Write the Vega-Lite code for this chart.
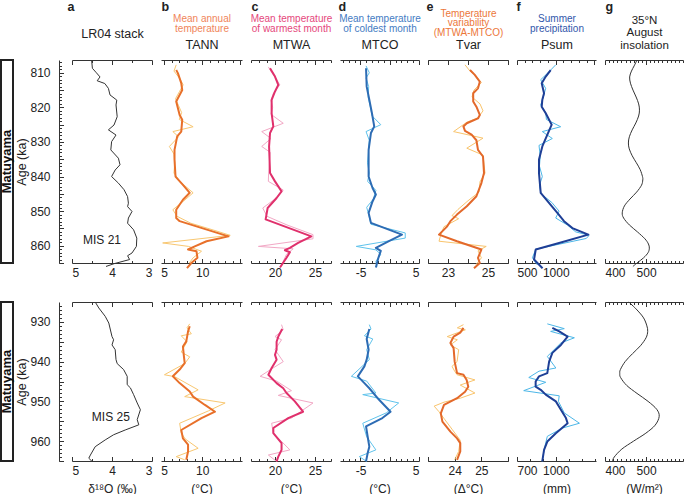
{
"$schema": "https://vega.github.io/schema/vega-lite/v6.json",
"padding": {"left": 0, "top": 0, "right": 0, "bottom": 0},
"background": "white",
"config": {
 "font": "Liberation Sans",
 "view": {"stroke": null},
 "axis": {"grid": false, "domainColor": "#333", "tickColor": "#333", "labelColor": "#222", "titleColor": "#222", "labelFontSize": 12, "titleFontSize": 12, "titleFontWeight": "normal", "labelFont": "Liberation Sans", "titleFont": "Liberation Sans", "domainWidth": 1, "tickWidth": 1, "labelOverlap": false},
 "line": {"strokeJoin": "round"}
},
"datasets": {
 "box": [{"t": "Matuyama"}],
 "blank": [{"t": ""}],
 "lr04_top": [{"age":806.3,"v":4.51},{"age":808.7,"v":4.49},{"age":810,"v":4.39},{"age":811.2,"v":4.30},{"age":812.3,"v":4.37},{"age":813.1,"v":4.18},{"age":814.5,"v":4.09},{"age":816.4,"v":4.05},{"age":817.9,"v":3.88},{"age":819.3,"v":3.90},{"age":822.7,"v":3.87},{"age":825.1,"v":3.95},{"age":826.5,"v":4.09},{"age":828,"v":3.90},{"age":829.9,"v":4.01},{"age":832.3,"v":4.03},{"age":834.7,"v":3.84},{"age":836.6,"v":3.80},{"age":838.1,"v":3.92},{"age":840,"v":4.01},{"age":841.9,"v":3.84},{"age":843.8,"v":3.70},{"age":845.8,"v":3.61},{"age":847.7,"v":3.59},{"age":848.7,"v":3.61},{"age":850.1,"v":3.50},{"age":852,"v":3.59},{"age":853.5,"v":3.61},{"age":855.4,"v":3.46},{"age":857.8,"v":3.38},{"age":860.2,"v":3.39},{"age":862.1,"v":3.50},{"age":862.9,"v":3.61},{"age":864,"v":3.56},{"age":865.2,"v":3.95},{"age":866,"v":4.15}],
 "mis_top": [{"age":858.4,"v":4.25,"t":"MIS 21"}],
 "mis_bot": [{"age":953.9,"v":4.03,"t":"MIS 25"}],
 "tann_top_dark": [{"age":809.2,"v":6.59},{"age":810.1,"v":6.81},{"age":813,"v":7.25},{"age":815,"v":7.38},{"age":818.3,"v":6.59},{"age":822.2,"v":7.04},{"age":823.6,"v":7.38},{"age":827,"v":7.25},{"age":828.4,"v":6.72},{"age":832.3,"v":6.37},{"age":835.1,"v":6.37},{"age":840,"v":6.5},{"age":842.4,"v":7.47},{"age":844.7,"v":8.36},{"age":846.7,"v":7.47},{"age":849.6,"v":6.59},{"age":852,"v":6.59},{"age":852.9,"v":7.04},{"age":857.3,"v":13.43},{"age":858.7,"v":10.56},{"age":860.2,"v":9.02},{"age":861.1,"v":8.14},{"age":861.6,"v":9.24},{"age":863.5,"v":9.37},{"age":865,"v":8.57},{"age":866.5,"v":8.0}],
 "tann_top_light": [{"age":807.7,"v":6.59},{"age":809.5,"v":6.3},{"age":811.6,"v":7.04},{"age":813.5,"v":7.5},{"age":815.5,"v":7.0},{"age":817.5,"v":6.5},{"age":819.5,"v":6.9},{"age":821.5,"v":7.3},{"age":823.5,"v":7.0},{"age":825.6,"v":8.8},{"age":827,"v":6.15},{"age":828.5,"v":6.9},{"age":831.3,"v":5.7},{"age":833.5,"v":6.3},{"age":836,"v":6.4},{"age":839,"v":6.3},{"age":841.5,"v":7.1},{"age":844.7,"v":8.8},{"age":847,"v":7.6},{"age":849.6,"v":6.15},{"age":851.5,"v":6.7},{"age":853.5,"v":8.5},{"age":855.5,"v":11.5},{"age":857,"v":13.66},{"age":859.2,"v":4.82},{"age":860.2,"v":8.2},{"age":861.6,"v":9.9},{"age":863.5,"v":8.8},{"age":865,"v":8.3}],
 "mtwa_top_dark": [{"age":808.7,"v":19.38},{"age":811.1,"v":20.0},{"age":813.5,"v":20.41},{"age":815.4,"v":20.0},{"age":817.8,"v":19.58},{"age":821.7,"v":19.58},{"age":825.5,"v":19.79},{"age":827.4,"v":19.38},{"age":831.3,"v":19.26},{"age":839,"v":19.38},{"age":841.4,"v":20.0},{"age":844.3,"v":20.82},{"age":846.2,"v":20.2},{"age":849.1,"v":19.08},{"age":852.4,"v":18.83},{"age":857.3,"v":24.54},{"age":859.2,"v":22.89},{"age":860.6,"v":21.86},{"age":861.3,"v":21.24},{"age":861.9,"v":21.86},{"age":863.5,"v":21.44},{"age":866.3,"v":20.62}],
 "mtwa_top_light": [{"age":808.3,"v":19.17},{"age":810,"v":19.6},{"age":811.5,"v":20.1},{"age":813.5,"v":20.6},{"age":816,"v":19.79},{"age":818,"v":19.5},{"age":820,"v":19.7},{"age":822,"v":19.5},{"age":824.6,"v":21.03},{"age":827,"v":18.34},{"age":829,"v":19.5},{"age":831.3,"v":18.34},{"age":833,"v":19.4},{"age":836,"v":19.3},{"age":839,"v":19.2},{"age":841.4,"v":19.17},{"age":843.9,"v":21.03},{"age":846.5,"v":20.0},{"age":849.1,"v":18.47},{"age":851.5,"v":19.0},{"age":854,"v":21.5},{"age":856.8,"v":24.75},{"age":858,"v":24.75},{"age":860.2,"v":17.93},{"age":860.9,"v":22.27},{"age":862.5,"v":21.44},{"age":864.5,"v":21.03},{"age":866,"v":20.8}],
 "mtco_top_dark": [{"age":808.7,"v":-4.05},{"age":814,"v":-3.94},{"age":817.8,"v":-3.49},{"age":821.7,"v":-3.04},{"age":825.5,"v":-2.65},{"age":827.4,"v":-3.21},{"age":832.3,"v":-3.61},{"age":840,"v":-3.61},{"age":843.3,"v":-2.94},{"age":845.2,"v":-2.37},{"age":847.2,"v":-2.94},{"age":850.5,"v":-3.61},{"age":853.4,"v":-3.21},{"age":856.8,"v":2.09},{"age":858.7,"v":-0.14},{"age":860.6,"v":-2.37},{"age":861.5,"v":-1.53},{"age":863.5,"v":-1.94},{"age":866.3,"v":-2.37}],
 "mtco_top_light": [{"age":808,"v":-4.05},{"age":810,"v":-3.49},{"age":811.5,"v":-4.05},{"age":814,"v":-3.6},{"age":817,"v":-3.7},{"age":820,"v":-3.3},{"age":822.5,"v":-3.0},{"age":825,"v":-1.53},{"age":827,"v":-4.05},{"age":829.5,"v":-3.5},{"age":832.3,"v":-3.61},{"age":836,"v":-3.8},{"age":839,"v":-3.5},{"age":841.4,"v":-3.77},{"age":844,"v":-2.37},{"age":846.5,"v":-2.8},{"age":848.9,"v":-3.94},{"age":851,"v":-3.6},{"age":853.8,"v":-3.21},{"age":856.3,"v":2.65},{"age":857.8,"v":2.65},{"age":860.2,"v":-5.72},{"age":861.2,"v":-2.37},{"age":862.5,"v":-1.53},{"age":864.5,"v":-2.37},{"age":866,"v":-2.2}],
 "tvar_top_dark": [{"age":809.2,"v":24.1},{"age":810.6,"v":24.34},{"age":812.6,"v":24.59},{"age":814.5,"v":24.5},{"age":815.9,"v":24.26},{"age":818.3,"v":24.26},{"age":819.8,"v":24.42},{"age":822.2,"v":24.59},{"age":823.2,"v":24.5},{"age":824.6,"v":23.94},{"age":825.5,"v":23.77},{"age":826.8,"v":23.85},{"age":827.9,"v":24.18},{"age":829.5,"v":24.42},{"age":832.3,"v":24.5},{"age":834.2,"v":24.75},{"age":839,"v":24.8},{"age":841.9,"v":24.67},{"age":845.7,"v":24.42},{"age":848.6,"v":23.94},{"age":851,"v":23.45},{"age":852.9,"v":23.12},{"age":854.4,"v":22.96},{"age":856.8,"v":22.55},{"age":858.7,"v":23.45},{"age":861.1,"v":24.67},{"age":863.5,"v":24.5},{"age":865,"v":24.59},{"age":866.5,"v":24.3}],
 "tvar_top_light": [{"age":807.7,"v":23.85},{"age":809.5,"v":24.1},{"age":810.6,"v":24.34},{"age":812.8,"v":24.67},{"age":815,"v":24.3},{"age":817,"v":24.2},{"age":819,"v":24.6},{"age":821,"v":24.75},{"age":823,"v":24.5},{"age":824.3,"v":23.94},{"age":827,"v":23.28},{"age":828.9,"v":24.75},{"age":831.8,"v":23.94},{"age":833.8,"v":24.75},{"age":836.5,"v":24.8},{"age":839,"v":24.85},{"age":841.5,"v":24.6},{"age":844.5,"v":24.55},{"age":847,"v":24.0},{"age":849.5,"v":23.5},{"age":851.3,"v":23.2},{"age":852.2,"v":23.53},{"age":854.5,"v":22.8},{"age":856.8,"v":22.64},{"age":858.7,"v":22.55},{"age":860.2,"v":24.91},{"age":861.5,"v":24.5},{"age":863.5,"v":24.67},{"age":865.5,"v":24.4}],
 "psum_top_dark": [{"age":809.2,"v":935},{"age":811.1,"v":871},{"age":813,"v":819},{"age":815.9,"v":849},{"age":817.8,"v":827},{"age":819.8,"v":819},{"age":821.7,"v":871},{"age":825,"v":948},{"age":827.9,"v":892},{"age":831.3,"v":827},{"age":835.1,"v":784},{"age":839,"v":784},{"age":844.7,"v":806},{"age":847.6,"v":913},{"age":850.5,"v":1021},{"age":852.9,"v":1107},{"age":854.9,"v":1215},{"age":856.8,"v":1421},{"age":859.2,"v":1043},{"age":861.1,"v":742},{"age":864,"v":720},{"age":866.5,"v":830}],
 "psum_top_light": [{"age":807.7,"v":1000},{"age":810,"v":900},{"age":812,"v":806},{"age":814.5,"v":870},{"age":817,"v":840},{"age":819.3,"v":806},{"age":821.5,"v":870},{"age":823.5,"v":880},{"age":825.6,"v":1064},{"age":827,"v":827},{"age":829,"v":956},{"age":831,"v":784},{"age":834,"v":800},{"age":837,"v":790},{"age":840,"v":827},{"age":842.5,"v":790},{"age":845,"v":810},{"age":847.5,"v":950},{"age":850,"v":1043},{"age":852,"v":1000},{"age":854,"v":1150},{"age":856,"v":1258},{"age":857,"v":1431},{"age":857.9,"v":1395},{"age":861,"v":742},{"age":863.5,"v":699},{"age":865.5,"v":760}],
 "ins_top": [{"age":806.3,"v":478},{"age":808,"v":471},{"age":809.5,"v":464.5},{"age":811.2,"v":460},{"age":813,"v":462},{"age":815,"v":468.2},{"age":817,"v":475.8},{"age":819,"v":482},{"age":820.8,"v":484},{"age":822.5,"v":481.9},{"age":824.5,"v":475.1},{"age":826.5,"v":466.3},{"age":828.5,"v":459.3},{"age":830.3,"v":457},{"age":832,"v":459.1},{"age":834,"v":466.3},{"age":836,"v":476.3},{"age":838,"v":485.7},{"age":840,"v":491.3},{"age":841,"v":492},{"age":842.5,"v":489},{"age":844.5,"v":477},{"age":846.5,"v":460.9},{"age":848.5,"v":447.3},{"age":850.5,"v":442},{"age":852,"v":445.4},{"age":854,"v":459.4},{"age":856,"v":479},{"age":858,"v":497.2},{"age":859.5,"v":505.8},{"age":860.7,"v":508},{"age":862,"v":505},{"age":863.5,"v":494},{"age":865,"v":478},{"age":866,"v":468}],
 "lr04_bot": [{"age":925,"v":4.42},{"age":926.5,"v":4.33},{"age":928.6,"v":4.17},{"age":930.3,"v":4.08},{"age":933.7,"v":4.0},{"age":934.5,"v":3.96},{"age":935.8,"v":4.0},{"age":937,"v":3.92},{"age":939.5,"v":3.9},{"age":940.5,"v":3.87},{"age":942,"v":3.71},{"age":943.7,"v":3.62},{"age":945.8,"v":3.62},{"age":946.6,"v":3.54},{"age":948.3,"v":3.46},{"age":950.4,"v":3.37},{"age":952.1,"v":3.29},{"age":954.6,"v":3.37},{"age":955.9,"v":3.33},{"age":957.2,"v":3.67},{"age":958.4,"v":3.96},{"age":959.7,"v":4.17},{"age":961.4,"v":4.42},{"age":963.5,"v":4.54},{"age":964.3,"v":4.58},{"age":965.1,"v":4.5}],
 "tann_bot_dark": [{"age":931.1,"v":8.36},{"age":932.4,"v":8.14},{"age":934.9,"v":7.91},{"age":936.2,"v":7.47},{"age":938.7,"v":7.6},{"age":940.4,"v":7.7},{"age":942,"v":7.04},{"age":943.7,"v":6.15},{"age":945.4,"v":7.04},{"age":947.5,"v":8.36},{"age":948.8,"v":8.8},{"age":950.9,"v":10.35},{"age":952.6,"v":11.67},{"age":954.2,"v":9.9},{"age":957.2,"v":7.25},{"age":959.3,"v":7.47},{"age":960.9,"v":8.14},{"age":962.6,"v":8.14},{"age":964.7,"v":7.91}],
 "tann_bot_light": [{"age":930.5,"v":8.36},{"age":931.5,"v":8.0},{"age":933,"v":8.57},{"age":933.5,"v":7.25},{"age":935,"v":8.0},{"age":937.6,"v":7.25},{"age":938.8,"v":8.36},{"age":940.5,"v":7.7},{"age":943.3,"v":5.05},{"age":943.8,"v":6.4},{"age":947.1,"v":9.46},{"age":948.8,"v":7.7},{"age":950.4,"v":12.99},{"age":952.4,"v":10.8},{"age":955.5,"v":7.04},{"age":958,"v":7.25},{"age":959.5,"v":7.8},{"age":961.8,"v":9.46},{"age":963.9,"v":6.59},{"age":964.7,"v":7.7}],
 "mtwa_bot_dark": [{"age":931.8,"v":20.9},{"age":933.7,"v":20.41},{"age":935,"v":20.2},{"age":937,"v":20.2},{"age":938.3,"v":20.0},{"age":939.5,"v":20.2},{"age":941.6,"v":19.58},{"age":943.3,"v":19.17},{"age":945.4,"v":20.2},{"age":946.7,"v":21.03},{"age":947.9,"v":21.44},{"age":950,"v":22.48},{"age":952.6,"v":23.51},{"age":954.2,"v":21.65},{"age":956.7,"v":19.79},{"age":958,"v":19.79},{"age":960.5,"v":20.82},{"age":962.2,"v":20.82},{"age":963.9,"v":20.41},{"age":965.1,"v":20.2}],
 "mtwa_bot_light": [{"age":930.7,"v":20.82},{"age":932,"v":21.03},{"age":933.7,"v":20.0},{"age":934.5,"v":20.82},{"age":937,"v":20.0},{"age":940,"v":21.03},{"age":941.8,"v":19.6},{"age":943.7,"v":18.14},{"age":944.9,"v":20.2},{"age":947.3,"v":22.06},{"age":948.5,"v":20.41},{"age":950.4,"v":24.75},{"age":954.2,"v":22.06},{"age":955.5,"v":19.58},{"age":958,"v":19.79},{"age":962.2,"v":21.86},{"age":963.5,"v":19.17},{"age":965.1,"v":20.2}],
 "mtco_bot_dark": [{"age":931.8,"v":-3.49},{"age":934.3,"v":-3.94},{"age":937,"v":-3.61},{"age":939.5,"v":-3.94},{"age":941.2,"v":-4.33},{"age":943.7,"v":-5.45},{"age":945.4,"v":-4.33},{"age":946.7,"v":-3.49},{"age":949.6,"v":-1.82},{"age":952.6,"v":0.14},{"age":954.2,"v":-1.26},{"age":956.3,"v":-4.05},{"age":958.9,"v":-3.77},{"age":961.4,"v":-3.49},{"age":963,"v":-3.77},{"age":965.1,"v":-4.05}],
 "mtco_bot_light": [{"age":930.7,"v":-3.49},{"age":931.8,"v":-3.2},{"age":933.5,"v":-4.33},{"age":934.3,"v":-2.9},{"age":937,"v":-3.94},{"age":939.5,"v":-3.49},{"age":943.7,"v":-6.56},{"age":944.9,"v":-3.94},{"age":947.9,"v":-2.37},{"age":948.3,"v":-4.61},{"age":950.4,"v":1.53},{"age":952.9,"v":-0.6},{"age":955.5,"v":-4.61},{"age":958.9,"v":-3.94},{"age":962.2,"v":-2.37},{"age":963.9,"v":-5.2},{"age":965.1,"v":-3.94}],
 "tvar_bot_dark": [{"age":931.5,"v":24.33},{"age":932.7,"v":24.21},{"age":933.7,"v":23.96},{"age":935.3,"v":23.84},{"age":936.6,"v":23.96},{"age":940,"v":24.0},{"age":942.9,"v":24.09},{"age":943.3,"v":24.33},{"age":944.6,"v":24.45},{"age":946.3,"v":24.51},{"age":947.6,"v":24.39},{"age":949.2,"v":24.09},{"age":950.9,"v":23.6},{"age":953,"v":23.48},{"age":955.1,"v":23.54},{"age":957.6,"v":23.84},{"age":959.3,"v":24.09},{"age":960.5,"v":24.21},{"age":962.6,"v":24.21},{"age":964.7,"v":24.09}],
 "tvar_bot_light": [{"age":930.7,"v":24.33},{"age":931.5,"v":24.1},{"age":932,"v":24.4},{"age":933.7,"v":23.72},{"age":934.5,"v":24.1},{"age":935.8,"v":23.84},{"age":937,"v":24.15},{"age":940,"v":24.09},{"age":941.2,"v":23.9},{"age":942.4,"v":24.0},{"age":943.3,"v":24.09},{"age":944.6,"v":24.76},{"age":945.9,"v":24.21},{"age":947.9,"v":24.76},{"age":949.2,"v":24.21},{"age":950.2,"v":23.6},{"age":951.2,"v":23.23},{"age":952.5,"v":23.4},{"age":957,"v":23.9},{"age":959.8,"v":24.21},{"age":962.6,"v":24.15},{"age":964.7,"v":24.0}],
 "psum_bot_dark": [{"age":931.5,"v":973},{"age":932.4,"v":1026},{"age":933.7,"v":1091},{"age":935.8,"v":1039},{"age":937.8,"v":973},{"age":940,"v":948},{"age":942.9,"v":934},{"age":943.7,"v":870},{"age":945,"v":844},{"age":946.3,"v":844},{"age":947.1,"v":883},{"age":948.3,"v":922},{"age":950,"v":1000},{"age":952.1,"v":1039},{"age":954.2,"v":1078},{"age":955.5,"v":1091},{"age":958,"v":1000},{"age":960.1,"v":934},{"age":962.2,"v":909},{"age":965.1,"v":895}],
 "psum_bot_light": [{"age":930.5,"v":934},{"age":931.7,"v":1065},{"age":932.4,"v":960},{"age":934,"v":1143},{"age":935.3,"v":1039},{"age":938.7,"v":934},{"age":941.6,"v":1000},{"age":942.4,"v":870},{"age":944,"v":791},{"age":945.2,"v":922},{"age":947.3,"v":752},{"age":948.6,"v":1026},{"age":950,"v":1020},{"age":952.9,"v":1065},{"age":955.5,"v":1182},{"age":956.7,"v":1052},{"age":958.8,"v":934},{"age":962.2,"v":909},{"age":965.1,"v":895}],
 "ins_bot": [{"age":925,"v":458},{"age":927,"v":478},{"age":929,"v":494},{"age":931,"v":502},{"age":932.4,"v":504},{"age":934,"v":500},{"age":936,"v":486.4},{"age":938,"v":467},{"age":940,"v":449},{"age":942,"v":437.5},{"age":943,"v":436},{"age":944,"v":438},{"age":946,"v":453},{"age":948,"v":478},{"age":950,"v":505},{"age":952,"v":526},{"age":953.8,"v":532},{"age":956,"v":522},{"age":958,"v":499.5},{"age":960,"v":469.6},{"age":962,"v":441},{"age":964,"v":422.5},{"age":965,"v":418.5}]
},
"concat": [
 {"width": 12, "height": 203, "view": {"stroke": "#222", "strokeWidth": 2}, "data": {"name": "box"}, "mark": {"type": "text", "angle": 270, "fontWeight": "bold", "fontSize": 13, "color": "#111"}, "encoding": {"text": {"field": "t"}}},
 {"width": 41, "height": 203, "data": {"name": "blank"}, "mark": "text", "encoding": {"text": {"field": "t"}}},
 {"width": 80, "height": 203,
  "layer": [
   {"data": {"name": "lr04_top"}, "mark": {"type": "line", "color": "#333", "strokeWidth": 1},
    "encoding": {
     "x": {"field": "v", "type": "quantitative", "scale": {"domain": [3, 5], "reverse": true, "nice": false, "zero": false}, "axis": {"orient": "bottom", "values": [3, 4, 5], "labelExpr": "datum.value + ''", "tickSize": -4.5, "labelPadding": 9, "title": null}},
     "y": {"field": "age", "type": "quantitative", "scale": {"domain": [806.3, 865], "reverse": true, "nice": false, "zero": false}, "axis": {"orient": "left", "offset": 13, "values": [810,815,820,825,830,835,840,845,850,855,860,865], "labelExpr": "datum.value % 10 == 0 ? datum.label : ''", "tickSize": -4.5, "labelPadding": 13.5, "title": "Age (ka)", "titleX": -38, "titleY": 101.5, "titleAngle": 270, "titleAlign": "center", "titleBaseline": "middle", "titleFontSize": 12.5}},
     "order": {"field": "age", "type": "quantitative"}}},
   {"data": {"name": "lr04_top"}, "mark": {"type": "line", "opacity": 0},
    "encoding": {
     "x": {"field": "v", "type": "quantitative", "axis": {"orient": "top", "values": [3, 4, 5], "labels": false, "tickSize": -4.5, "title": "LR04 stack", "titleX": 40, "titleY": -27, "titleAlign": "center", "titleBaseline": "middle", "titleFontSize": 12.5}},
     "y": {"field": "age", "type": "quantitative", "axis": {"orient": "left", "offset": 13, "values": [807,808,809,810,811,812,813,814,815,816,817,818,819,820,821,822,823,824,825,826,827,828,829,830,831,832,833,834,835,836,837,838,839,840,841,842,843,844,845,846,847,848,849,850,851,852,853,854,855,856,857,858,859,860,861,862,863,864,865], "labels": false, "tickSize": -2.5, "domain": false, "title": null}},
     "order": {"field": "age", "type": "quantitative"}}},
   {"data": {"name": "lr04_top"}, "mark": {"type": "line", "opacity": 0},
    "encoding": {
     "x": {"field": "v", "type": "quantitative", "axis": {"orient": "bottom", "values": [3.5, 4.5], "labels": false, "tickSize": -2.5, "domain": false, "title": "a", "titleX": -5, "titleY": -257, "titleAlign": "left", "titleBaseline": "middle", "titleFontWeight": "bold", "titleFontSize": 12.5}},
     "y": {"field": "age", "type": "quantitative", "axis": null},
     "order": {"field": "age", "type": "quantitative"}}},
   {"data": {"name": "lr04_top"}, "mark": {"type": "line", "opacity": 0},
    "encoding": {
     "x": {"field": "v", "type": "quantitative", "axis": {"orient": "top", "values": [3.5, 4.5], "labels": false, "tickSize": -2.5, "domain": false, "title": null}},
     "y": {"field": "age", "type": "quantitative", "axis": null},
     "order": {"field": "age", "type": "quantitative"}}},
   {"data": {"name": "mis_top"}, "mark": {"type": "text", "fontSize": 12, "color": "#222"},
    "encoding": {"x": {"field": "v", "type": "quantitative", "axis": null}, "y": {"field": "age", "type": "quantitative", "axis": null}, "text": {"field": "t"}}}
  ],
  "resolve": {"axis": {"x": "independent", "y": "independent"}}},
 {"width": 81, "height": 203,
  "layer": [
   {"data": {"name": "tann_top_light"}, "mark": {"type": "line", "color": "#F8C771", "strokeWidth": 1},
    "encoding": {
     "x": {"field": "v", "type": "quantitative", "scale": {"domain": [4.6, 15.2], "nice": false, "zero": false}, "axis": {"orient": "bottom", "values": [5, 10, 15], "labelExpr": "datum.value == 15 ? '' : datum.label", "tickSize": -4.5, "labelPadding": 9, "title": null}},
     "y": {"field": "age", "type": "quantitative", "scale": {"domain": [806.3, 865], "reverse": true, "nice": false, "zero": false}, "axis": null},
     "order": {"field": "age", "type": "quantitative"}}},
   {"data": {"name": "tann_top_dark"}, "mark": {"type": "line", "color": "#E8702A", "strokeWidth": 2},
    "encoding": {
     "x": {"field": "v", "type": "quantitative", "axis": {"orient": "top", "values": [5, 10, 15], "labels": false, "tickSize": -4.5, "title": "TANN", "titleX": 40.5, "titleY": -16, "titleAlign": "center", "titleBaseline": "middle", "titleFontSize": 12.5}},
     "y": {"field": "age", "type": "quantitative", "axis": null},
     "order": {"field": "age", "type": "quantitative"}}},
   {"data": {"name": "tann_top_dark"}, "mark": {"type": "line", "opacity": 0},
    "encoding": {
     "x": {"field": "v", "type": "quantitative", "axis": {"orient": "bottom", "values": [6,7,8,9,11,12,13,14], "labels": false, "tickSize": -2.5, "domain": false, "title": "b", "titleX": 0, "titleY": -257, "titleAlign": "left", "titleBaseline": "middle", "titleFontWeight": "bold", "titleFontSize": 12.5}},
     "y": {"field": "age", "type": "quantitative", "axis": null},
     "order": {"field": "age", "type": "quantitative"}}},
   {"data": {"name": "tann_top_dark"}, "mark": {"type": "line", "opacity": 0},
    "encoding": {
     "x": {"field": "v", "type": "quantitative", "axis": {"orient": "top", "values": [6,7,8,9,11,12,13,14], "labels": false, "tickSize": -2.5, "domain": false, "title": ["Mean annual", "temperature"], "titleX": 40.5, "titleY": -42, "titleAlign": "center", "titleBaseline": "middle", "titleFontSize": 10, "titleLineHeight": 10, "titleColor": "#F0855A"}},
     "y": {"field": "age", "type": "quantitative", "axis": null},
     "order": {"field": "age", "type": "quantitative"}}}
  ],
  "resolve": {"axis": {"x": "independent", "y": "independent"}}},
 {"width": 80, "height": 203,
  "layer": [
   {"data": {"name": "mtwa_top_light"}, "mark": {"type": "line", "color": "#F2A8C5", "strokeWidth": 1},
    "encoding": {
     "x": {"field": "v", "type": "quantitative", "scale": {"domain": [17, 27], "nice": false, "zero": false}, "axis": {"orient": "bottom", "values": [20, 25], "tickSize": -4.5, "labelPadding": 9, "title": null}},
     "y": {"field": "age", "type": "quantitative", "scale": {"domain": [806.3, 865], "reverse": true, "nice": false, "zero": false}, "axis": null},
     "order": {"field": "age", "type": "quantitative"}}},
   {"data": {"name": "mtwa_top_dark"}, "mark": {"type": "line", "color": "#E0306C", "strokeWidth": 2},
    "encoding": {
     "x": {"field": "v", "type": "quantitative", "axis": {"orient": "top", "values": [20, 25], "labels": false, "tickSize": -4.5, "title": "MTWA", "titleX": 40, "titleY": -16, "titleAlign": "center", "titleBaseline": "middle", "titleFontSize": 12.5}},
     "y": {"field": "age", "type": "quantitative", "axis": null},
     "order": {"field": "age", "type": "quantitative"}}},
   {"data": {"name": "mtwa_top_dark"}, "mark": {"type": "line", "opacity": 0},
    "encoding": {
     "x": {"field": "v", "type": "quantitative", "axis": {"orient": "bottom", "values": [17,18,19,21,22,23,24,26,27], "labels": false, "tickSize": -2.5, "domain": false, "title": "c", "titleX": 0, "titleY": -257, "titleAlign": "left", "titleBaseline": "middle", "titleFontWeight": "bold", "titleFontSize": 12.5}},
     "y": {"field": "age", "type": "quantitative", "axis": null},
     "order": {"field": "age", "type": "quantitative"}}},
   {"data": {"name": "mtwa_top_dark"}, "mark": {"type": "line", "opacity": 0},
    "encoding": {
     "x": {"field": "v", "type": "quantitative", "axis": {"orient": "top", "values": [17,18,19,21,22,23,24,26,27], "labels": false, "tickSize": -2.5, "domain": false, "title": ["Mean temperature", "of warmest month"], "titleX": 40, "titleY": -42, "titleAlign": "center", "titleBaseline": "middle", "titleFontSize": 10, "titleLineHeight": 10, "titleColor": "#E5487C"}},
     "y": {"field": "age", "type": "quantitative", "axis": null},
     "order": {"field": "age", "type": "quantitative"}}}
  ],
  "resolve": {"axis": {"x": "independent", "y": "independent"}}},
 {"width": 79, "height": 203,
  "layer": [
   {"data": {"name": "mtco_top_light"}, "mark": {"type": "line", "color": "#5FC3EC", "strokeWidth": 1},
    "encoding": {
     "x": {"field": "v", "type": "quantitative", "scale": {"domain": [-8.5, 5], "nice": false, "zero": false}, "axis": {"orient": "bottom", "values": [-5, 0, 5], "labelExpr": "datum.value == 0 ? '' : datum.value == -5 ? '-5' : datum.label", "tickSize": -4.5, "labelPadding": 9, "title": null}},
     "y": {"field": "age", "type": "quantitative", "scale": {"domain": [806.3, 865], "reverse": true, "nice": false, "zero": false}, "axis": null},
     "order": {"field": "age", "type": "quantitative"}}},
   {"data": {"name": "mtco_top_dark"}, "mark": {"type": "line", "color": "#2D6CB4", "strokeWidth": 2},
    "encoding": {
     "x": {"field": "v", "type": "quantitative", "axis": {"orient": "top", "values": [-5, 0, 5], "labels": false, "tickSize": -4.5, "title": "MTCO", "titleX": 39.5, "titleY": -16, "titleAlign": "center", "titleBaseline": "middle", "titleFontSize": 12.5}},
     "y": {"field": "age", "type": "quantitative", "axis": null},
     "order": {"field": "age", "type": "quantitative"}}},
   {"data": {"name": "mtco_top_dark"}, "mark": {"type": "line", "opacity": 0},
    "encoding": {
     "x": {"field": "v", "type": "quantitative", "axis": {"orient": "bottom", "values": [-8,-7,-6,-4,-3,-2,-1,1,2,3,4], "labels": false, "tickSize": -2.5, "domain": false, "title": "d", "titleX": -2, "titleY": -257, "titleAlign": "left", "titleBaseline": "middle", "titleFontWeight": "bold", "titleFontSize": 12.5}},
     "y": {"field": "age", "type": "quantitative", "axis": null},
     "order": {"field": "age", "type": "quantitative"}}},
   {"data": {"name": "mtco_top_dark"}, "mark": {"type": "line", "opacity": 0},
    "encoding": {
     "x": {"field": "v", "type": "quantitative", "axis": {"orient": "top", "values": [-8,-7,-6,-4,-3,-2,-1,1,2,3,4], "labels": false, "tickSize": -2.5, "domain": false, "title": ["Mean temperature", "of coldest month"], "titleX": 39.5, "titleY": -42, "titleAlign": "center", "titleBaseline": "middle", "titleFontSize": 10, "titleLineHeight": 10, "titleColor": "#457CC3"}},
     "y": {"field": "age", "type": "quantitative", "axis": null},
     "order": {"field": "age", "type": "quantitative"}}}
  ],
  "resolve": {"axis": {"x": "independent", "y": "independent"}}},
 {"width": 80, "height": 203,
  "layer": [
   {"data": {"name": "tvar_top_light"}, "mark": {"type": "line", "color": "#F9C46C", "strokeWidth": 1},
    "encoding": {
     "x": {"field": "v", "type": "quantitative", "scale": {"domain": [22, 26], "nice": false, "zero": false}, "axis": {"orient": "bottom", "values": [22, 23, 24, 25, 26], "labelExpr": "datum.value == 23 || datum.value == 25 ? datum.label : ''", "tickSize": -4.5, "labelPadding": 9, "title": null}},
     "y": {"field": "age", "type": "quantitative", "scale": {"domain": [806.3, 865], "reverse": true, "nice": false, "zero": false}, "axis": null},
     "order": {"field": "age", "type": "quantitative"}}},
   {"data": {"name": "tvar_top_dark"}, "mark": {"type": "line", "color": "#E3692B", "strokeWidth": 2},
    "encoding": {
     "x": {"field": "v", "type": "quantitative", "axis": {"orient": "top", "values": [22, 23, 24, 25, 26], "labels": false, "tickSize": -4.5, "title": "Tvar", "titleX": 40, "titleY": -16, "titleAlign": "center", "titleBaseline": "middle", "titleFontSize": 12.5}},
     "y": {"field": "age", "type": "quantitative", "axis": null},
     "order": {"field": "age", "type": "quantitative"}}},
   {"data": {"name": "tvar_top_dark"}, "mark": {"type": "line", "opacity": 0},
    "encoding": {
     "x": {"field": "v", "type": "quantitative", "axis": {"orient": "bottom", "values": [22, 23, 24, 25, 26], "labels": false, "tickSize": -2.5, "domain": false, "title": "e", "titleX": -2, "titleY": -257, "titleAlign": "left", "titleBaseline": "middle", "titleFontWeight": "bold", "titleFontSize": 12.5}},
     "y": {"field": "age", "type": "quantitative", "axis": null},
     "order": {"field": "age", "type": "quantitative"}}},
   {"data": {"name": "tvar_top_dark"}, "mark": {"type": "line", "opacity": 0},
    "encoding": {
     "x": {"field": "v", "type": "quantitative", "axis": {"orient": "top", "values": [22, 23, 24, 25, 26], "labels": false, "tickSize": -2.5, "domain": false, "title": ["Temperature", "variability", "(MTWA-MTCO)"], "titleX": 40, "titleY": -47, "titleAlign": "center", "titleBaseline": "middle", "titleFontSize": 10, "titleLineHeight": 9.5, "titleColor": "#EC773A"}},
     "y": {"field": "age", "type": "quantitative", "axis": null},
     "order": {"field": "age", "type": "quantitative"}}}
  ],
  "resolve": {"axis": {"x": "independent", "y": "independent"}}},
 {"width": 79, "height": 203,
  "layer": [
   {"data": {"name": "psum_top_light"}, "mark": {"type": "line", "color": "#4DB7E8", "strokeWidth": 1},
    "encoding": {
     "x": {"field": "v", "type": "quantitative", "scale": {"domain": [500, 1520], "nice": false, "zero": false}, "axis": {"orient": "bottom", "values": [500, 1000, 1500], "labelExpr": "datum.value == 1500 ? '' : datum.value + ''", "tickSize": -4.5, "labelPadding": 9, "title": null}},
     "y": {"field": "age", "type": "quantitative", "scale": {"domain": [806.3, 865], "reverse": true, "nice": false, "zero": false}, "axis": null},
     "order": {"field": "age", "type": "quantitative"}}},
   {"data": {"name": "psum_top_dark"}, "mark": {"type": "line", "color": "#1E3F96", "strokeWidth": 2},
    "encoding": {
     "x": {"field": "v", "type": "quantitative", "axis": {"orient": "top", "values": [500, 1000, 1500], "labels": false, "tickSize": -4.5, "title": "Psum", "titleX": 39.5, "titleY": -16, "titleAlign": "center", "titleBaseline": "middle", "titleFontSize": 12.5}},
     "y": {"field": "age", "type": "quantitative", "axis": null},
     "order": {"field": "age", "type": "quantitative"}}},
   {"data": {"name": "psum_top_dark"}, "mark": {"type": "line", "opacity": 0},
    "encoding": {
     "x": {"field": "v", "type": "quantitative", "axis": {"orient": "bottom", "values": [600,700,800,900,1100,1200,1300,1400], "labels": false, "tickSize": -2.5, "domain": false, "title": "f", "titleX": -1, "titleY": -257, "titleAlign": "left", "titleBaseline": "middle", "titleFontWeight": "bold", "titleFontSize": 12.5}},
     "y": {"field": "age", "type": "quantitative", "axis": null},
     "order": {"field": "age", "type": "quantitative"}}},
   {"data": {"name": "psum_top_dark"}, "mark": {"type": "line", "opacity": 0},
    "encoding": {
     "x": {"field": "v", "type": "quantitative", "axis": {"orient": "top", "values": [600,700,800,900,1100,1200,1300,1400], "labels": false, "tickSize": -2.5, "domain": false, "title": ["Summer", "precipitation"], "titleX": 39.5, "titleY": -42, "titleAlign": "center", "titleBaseline": "middle", "titleFontSize": 10, "titleLineHeight": 10, "titleColor": "#3157AB"}},
     "y": {"field": "age", "type": "quantitative", "axis": null},
     "order": {"field": "age", "type": "quantitative"}}}
  ],
  "resolve": {"axis": {"x": "independent", "y": "independent"}}},
 {"width": 78, "height": 203,
  "layer": [
   {"data": {"name": "ins_top"}, "mark": {"type": "line", "color": "#333", "strokeWidth": 1, "interpolate": "cardinal"},
    "encoding": {
     "x": {"field": "v", "type": "quantitative", "scale": {"domain": [400, 590], "nice": false, "zero": false}, "axis": {"orient": "bottom", "values": [400, 500], "tickSize": -4.5, "labelPadding": 9, "title": null}},
     "y": {"field": "age", "type": "quantitative", "scale": {"domain": [806.3, 865], "reverse": true, "nice": false, "zero": false}, "axis": null},
     "order": {"field": "age", "type": "quantitative"}}},
   {"data": {"name": "ins_top"}, "mark": {"type": "line", "opacity": 0},
    "encoding": {
     "x": {"field": "v", "type": "quantitative", "axis": {"orient": "top", "values": [400, 500], "labels": false, "tickSize": -4.5, "title": ["35°N", "August", "insolation"], "titleX": 39, "titleY": -40, "titleAlign": "center", "titleBaseline": "middle", "titleFontSize": 11.5, "titleLineHeight": 12.5}},
     "y": {"field": "age", "type": "quantitative", "axis": null},
     "order": {"field": "age", "type": "quantitative"}}},
   {"data": {"name": "ins_top"}, "mark": {"type": "line", "opacity": 0},
    "encoding": {
     "x": {"field": "v", "type": "quantitative", "axis": {"orient": "bottom", "values": [410,420,430,440,450,460,470,480,490,510,520,530,540,550,560,570,580,590], "labels": false, "tickSize": -2.5, "domain": false, "title": "g", "titleX": 0, "titleY": -257, "titleAlign": "left", "titleBaseline": "middle", "titleFontWeight": "bold", "titleFontSize": 12.5}},
     "y": {"field": "age", "type": "quantitative", "axis": null},
     "order": {"field": "age", "type": "quantitative"}}},
   {"data": {"name": "ins_top"}, "mark": {"type": "line", "opacity": 0},
    "encoding": {
     "x": {"field": "v", "type": "quantitative", "axis": {"orient": "top", "values": [410,420,430,440,450,460,470,480,490,510,520,530,540,550,560,570,580,590], "labels": false, "tickSize": -2.5, "domain": false, "title": null}},
     "y": {"field": "age", "type": "quantitative", "axis": null},
     "order": {"field": "age", "type": "quantitative"}}}
  ],
  "resolve": {"axis": {"x": "independent", "y": "independent"}}},

 {"width": 12, "height": 159, "view": {"stroke": "#222", "strokeWidth": 2}, "data": {"name": "box"}, "mark": {"type": "text", "angle": 270, "fontWeight": "bold", "fontSize": 13, "color": "#111"}, "encoding": {"text": {"field": "t"}}},
 {"width": 41, "height": 159, "data": {"name": "blank"}, "mark": "text", "encoding": {"text": {"field": "t"}}},
 {"width": 80, "height": 159,
  "layer": [
   {"data": {"name": "lr04_bot"}, "mark": {"type": "line", "color": "#333", "strokeWidth": 1},
    "encoding": {
     "x": {"field": "v", "type": "quantitative", "scale": {"domain": [3, 5], "reverse": true, "nice": false, "zero": false}, "axis": {"orient": "bottom", "values": [3, 4, 5], "labelExpr": "datum.value + ''", "tickSize": -4.5, "labelPadding": 9, "title": "δ¹⁸O (‰)", "titleX": 40, "titleY": 27, "titleAlign": "center", "titleBaseline": "middle"}},
     "y": {"field": "age", "type": "quantitative", "scale": {"domain": [925, 965], "reverse": true, "nice": false, "zero": false}, "axis": {"orient": "left", "offset": 13, "values": [930,935,940,945,950,955,960,965], "labelExpr": "datum.value % 10 == 0 ? datum.label : ''", "tickSize": -4.5, "labelPadding": 13.5, "title": "Age (ka)", "titleX": -38, "titleY": 79.5, "titleAngle": 270, "titleAlign": "center", "titleBaseline": "middle", "titleFontSize": 12.5}},
     "order": {"field": "age", "type": "quantitative"}}},
   {"data": {"name": "lr04_bot"}, "mark": {"type": "line", "opacity": 0},
    "encoding": {
     "x": {"field": "v", "type": "quantitative", "axis": {"orient": "top", "values": [3, 4, 5], "labels": false, "tickSize": -4.5, "title": null}},
     "y": {"field": "age", "type": "quantitative", "axis": {"orient": "left", "offset": 13, "values": [926,927,928,929,930,931,932,933,934,935,936,937,938,939,940,941,942,943,944,945,946,947,948,949,950,951,952,953,954,955,956,957,958,959,960,961,962,963,964,965], "labels": false, "tickSize": -2.5, "domain": false, "title": null}},
     "order": {"field": "age", "type": "quantitative"}}},
   {"data": {"name": "lr04_bot"}, "mark": {"type": "line", "opacity": 0},
    "encoding": {
     "x": {"field": "v", "type": "quantitative", "axis": {"orient": "bottom", "values": [3.5, 4.5], "labels": false, "tickSize": -2.5, "domain": false, "title": null}},
     "y": {"field": "age", "type": "quantitative", "axis": null},
     "order": {"field": "age", "type": "quantitative"}}},
   {"data": {"name": "lr04_bot"}, "mark": {"type": "line", "opacity": 0},
    "encoding": {
     "x": {"field": "v", "type": "quantitative", "axis": {"orient": "top", "values": [3.5, 4.5], "labels": false, "tickSize": -2.5, "domain": false, "title": null}},
     "y": {"field": "age", "type": "quantitative", "axis": null},
     "order": {"field": "age", "type": "quantitative"}}},
   {"data": {"name": "mis_bot"}, "mark": {"type": "text", "fontSize": 12, "color": "#222"},
    "encoding": {"x": {"field": "v", "type": "quantitative", "axis": null}, "y": {"field": "age", "type": "quantitative", "axis": null}, "text": {"field": "t"}}}
  ],
  "resolve": {"axis": {"x": "independent", "y": "independent"}}},
 {"width": 81, "height": 159,
  "layer": [
   {"data": {"name": "tann_bot_light"}, "mark": {"type": "line", "color": "#F8C771", "strokeWidth": 1},
    "encoding": {
     "x": {"field": "v", "type": "quantitative", "scale": {"domain": [4.6, 15.2], "nice": false, "zero": false}, "axis": {"orient": "bottom", "values": [5, 10, 15], "labelExpr": "datum.value == 15 ? '' : datum.label", "tickSize": -4.5, "labelPadding": 9, "title": "(°C)", "titleX": 40.5, "titleY": 27, "titleAlign": "center", "titleBaseline": "middle"}},
     "y": {"field": "age", "type": "quantitative", "scale": {"domain": [925, 965], "reverse": true, "nice": false, "zero": false}, "axis": null},
     "order": {"field": "age", "type": "quantitative"}}},
   {"data": {"name": "tann_bot_dark"}, "mark": {"type": "line", "color": "#E8702A", "strokeWidth": 2},
    "encoding": {
     "x": {"field": "v", "type": "quantitative", "axis": {"orient": "top", "values": [5, 10, 15], "labels": false, "tickSize": -4.5, "title": null}},
     "y": {"field": "age", "type": "quantitative", "axis": null},
     "order": {"field": "age", "type": "quantitative"}}},
   {"data": {"name": "tann_bot_dark"}, "mark": {"type": "line", "opacity": 0},
    "encoding": {
     "x": {"field": "v", "type": "quantitative", "axis": {"orient": "bottom", "values": [6,7,8,9,11,12,13,14], "labels": false, "tickSize": -2.5, "domain": false, "title": null}},
     "y": {"field": "age", "type": "quantitative", "axis": null},
     "order": {"field": "age", "type": "quantitative"}}},
   {"data": {"name": "tann_bot_dark"}, "mark": {"type": "line", "opacity": 0},
    "encoding": {
     "x": {"field": "v", "type": "quantitative", "axis": {"orient": "top", "values": [6,7,8,9,11,12,13,14], "labels": false, "tickSize": -2.5, "domain": false, "title": null}},
     "y": {"field": "age", "type": "quantitative", "axis": null},
     "order": {"field": "age", "type": "quantitative"}}}
  ],
  "resolve": {"axis": {"x": "independent", "y": "independent"}}},
 {"width": 80, "height": 159,
  "layer": [
   {"data": {"name": "mtwa_bot_light"}, "mark": {"type": "line", "color": "#F2A8C5", "strokeWidth": 1},
    "encoding": {
     "x": {"field": "v", "type": "quantitative", "scale": {"domain": [17, 27], "nice": false, "zero": false}, "axis": {"orient": "bottom", "values": [20, 25], "tickSize": -4.5, "labelPadding": 9, "title": "(°C)", "titleX": 40, "titleY": 27, "titleAlign": "center", "titleBaseline": "middle"}},
     "y": {"field": "age", "type": "quantitative", "scale": {"domain": [925, 965], "reverse": true, "nice": false, "zero": false}, "axis": null},
     "order": {"field": "age", "type": "quantitative"}}},
   {"data": {"name": "mtwa_bot_dark"}, "mark": {"type": "line", "color": "#E0306C", "strokeWidth": 2},
    "encoding": {
     "x": {"field": "v", "type": "quantitative", "axis": {"orient": "top", "values": [20, 25], "labels": false, "tickSize": -4.5, "title": null}},
     "y": {"field": "age", "type": "quantitative", "axis": null},
     "order": {"field": "age", "type": "quantitative"}}},
   {"data": {"name": "mtwa_bot_dark"}, "mark": {"type": "line", "opacity": 0},
    "encoding": {
     "x": {"field": "v", "type": "quantitative", "axis": {"orient": "bottom", "values": [17,18,19,21,22,23,24,26,27], "labels": false, "tickSize": -2.5, "domain": false, "title": null}},
     "y": {"field": "age", "type": "quantitative", "axis": null},
     "order": {"field": "age", "type": "quantitative"}}},
   {"data": {"name": "mtwa_bot_dark"}, "mark": {"type": "line", "opacity": 0},
    "encoding": {
     "x": {"field": "v", "type": "quantitative", "axis": {"orient": "top", "values": [17,18,19,21,22,23,24,26,27], "labels": false, "tickSize": -2.5, "domain": false, "title": null}},
     "y": {"field": "age", "type": "quantitative", "axis": null},
     "order": {"field": "age", "type": "quantitative"}}}
  ],
  "resolve": {"axis": {"x": "independent", "y": "independent"}}},
 {"width": 79, "height": 159,
  "layer": [
   {"data": {"name": "mtco_bot_light"}, "mark": {"type": "line", "color": "#5FC3EC", "strokeWidth": 1},
    "encoding": {
     "x": {"field": "v", "type": "quantitative", "scale": {"domain": [-8.5, 5], "nice": false, "zero": false}, "axis": {"orient": "bottom", "values": [-5, 0, 5], "labelExpr": "datum.value == 0 ? '' : datum.value == -5 ? '-5' : datum.label", "tickSize": -4.5, "labelPadding": 9, "title": "(°C)", "titleX": 39.5, "titleY": 27, "titleAlign": "center", "titleBaseline": "middle"}},
     "y": {"field": "age", "type": "quantitative", "scale": {"domain": [925, 965], "reverse": true, "nice": false, "zero": false}, "axis": null},
     "order": {"field": "age", "type": "quantitative"}}},
   {"data": {"name": "mtco_bot_dark"}, "mark": {"type": "line", "color": "#2D6CB4", "strokeWidth": 2},
    "encoding": {
     "x": {"field": "v", "type": "quantitative", "axis": {"orient": "top", "values": [-5, 0, 5], "labels": false, "tickSize": -4.5, "title": null}},
     "y": {"field": "age", "type": "quantitative", "axis": null},
     "order": {"field": "age", "type": "quantitative"}}},
   {"data": {"name": "mtco_bot_dark"}, "mark": {"type": "line", "opacity": 0},
    "encoding": {
     "x": {"field": "v", "type": "quantitative", "axis": {"orient": "bottom", "values": [-8,-7,-6,-4,-3,-2,-1,1,2,3,4], "labels": false, "tickSize": -2.5, "domain": false, "title": null}},
     "y": {"field": "age", "type": "quantitative", "axis": null},
     "order": {"field": "age", "type": "quantitative"}}},
   {"data": {"name": "mtco_bot_dark"}, "mark": {"type": "line", "opacity": 0},
    "encoding": {
     "x": {"field": "v", "type": "quantitative", "axis": {"orient": "top", "values": [-8,-7,-6,-4,-3,-2,-1,1,2,3,4], "labels": false, "tickSize": -2.5, "domain": false, "title": null}},
     "y": {"field": "age", "type": "quantitative", "axis": null},
     "order": {"field": "age", "type": "quantitative"}}}
  ],
  "resolve": {"axis": {"x": "independent", "y": "independent"}}},
 {"width": 80, "height": 159,
  "layer": [
   {"data": {"name": "tvar_bot_light"}, "mark": {"type": "line", "color": "#F9C46C", "strokeWidth": 1},
    "encoding": {
     "x": {"field": "v", "type": "quantitative", "scale": {"domain": [23, 26], "nice": false, "zero": false}, "axis": {"orient": "bottom", "values": [23, 24, 25, 26], "labelExpr": "datum.value == 24 || datum.value == 25 ? datum.label : ''", "tickSize": -4.5, "labelPadding": 9, "title": "(Δ°C)", "titleX": 40, "titleY": 27, "titleAlign": "center", "titleBaseline": "middle"}},
     "y": {"field": "age", "type": "quantitative", "scale": {"domain": [925, 965], "reverse": true, "nice": false, "zero": false}, "axis": null},
     "order": {"field": "age", "type": "quantitative"}}},
   {"data": {"name": "tvar_bot_dark"}, "mark": {"type": "line", "color": "#E3692B", "strokeWidth": 2},
    "encoding": {
     "x": {"field": "v", "type": "quantitative", "axis": {"orient": "top", "values": [23, 24, 25, 26], "labels": false, "tickSize": -4.5, "title": null}},
     "y": {"field": "age", "type": "quantitative", "axis": null},
     "order": {"field": "age", "type": "quantitative"}}},
   {"data": {"name": "tvar_bot_dark"}, "mark": {"type": "line", "opacity": 0},
    "encoding": {
     "x": {"field": "v", "type": "quantitative", "axis": {"orient": "bottom", "values": [23, 24, 25, 26], "labels": false, "tickSize": -2.5, "domain": false, "title": null}},
     "y": {"field": "age", "type": "quantitative", "axis": null},
     "order": {"field": "age", "type": "quantitative"}}},
   {"data": {"name": "tvar_bot_dark"}, "mark": {"type": "line", "opacity": 0},
    "encoding": {
     "x": {"field": "v", "type": "quantitative", "axis": {"orient": "top", "values": [23, 24, 25, 26], "labels": false, "tickSize": -2.5, "domain": false, "title": null}},
     "y": {"field": "age", "type": "quantitative", "axis": null},
     "order": {"field": "age", "type": "quantitative"}}}
  ],
  "resolve": {"axis": {"x": "independent", "y": "independent"}}},
 {"width": 79, "height": 159,
  "layer": [
   {"data": {"name": "psum_bot_light"}, "mark": {"type": "line", "color": "#4DB7E8", "strokeWidth": 1},
    "encoding": {
     "x": {"field": "v", "type": "quantitative", "scale": {"domain": [700, 1310], "nice": false, "zero": false}, "axis": {"orient": "bottom", "values": [700, 1000], "labelExpr": "datum.value + ''", "tickSize": -4.5, "labelPadding": 9, "title": "(mm)", "titleX": 39.5, "titleY": 27, "titleAlign": "center", "titleBaseline": "middle"}},
     "y": {"field": "age", "type": "quantitative", "scale": {"domain": [925, 965], "reverse": true, "nice": false, "zero": false}, "axis": null},
     "order": {"field": "age", "type": "quantitative"}}},
   {"data": {"name": "psum_bot_dark"}, "mark": {"type": "line", "color": "#1E3F96", "strokeWidth": 2},
    "encoding": {
     "x": {"field": "v", "type": "quantitative", "axis": {"orient": "top", "values": [700, 1000], "labels": false, "tickSize": -4.5, "title": null}},
     "y": {"field": "age", "type": "quantitative", "axis": null},
     "order": {"field": "age", "type": "quantitative"}}},
   {"data": {"name": "psum_bot_dark"}, "mark": {"type": "line", "opacity": 0},
    "encoding": {
     "x": {"field": "v", "type": "quantitative", "axis": {"orient": "bottom", "values": [800, 900, 1100, 1200, 1300], "labels": false, "tickSize": -2.5, "domain": false, "title": null}},
     "y": {"field": "age", "type": "quantitative", "axis": null},
     "order": {"field": "age", "type": "quantitative"}}},
   {"data": {"name": "psum_bot_dark"}, "mark": {"type": "line", "opacity": 0},
    "encoding": {
     "x": {"field": "v", "type": "quantitative", "axis": {"orient": "top", "values": [800, 900, 1100, 1200, 1300], "labels": false, "tickSize": -2.5, "domain": false, "title": null}},
     "y": {"field": "age", "type": "quantitative", "axis": null},
     "order": {"field": "age", "type": "quantitative"}}}
  ],
  "resolve": {"axis": {"x": "independent", "y": "independent"}}},
 {"width": 78, "height": 159,
  "layer": [
   {"data": {"name": "ins_bot"}, "mark": {"type": "line", "color": "#333", "strokeWidth": 1, "interpolate": "cardinal"},
    "encoding": {
     "x": {"field": "v", "type": "quantitative", "scale": {"domain": [400, 590], "nice": false, "zero": false}, "axis": {"orient": "bottom", "values": [400, 500], "tickSize": -4.5, "labelPadding": 9, "title": "(W/m²)", "titleX": 39, "titleY": 27, "titleAlign": "center", "titleBaseline": "middle"}},
     "y": {"field": "age", "type": "quantitative", "scale": {"domain": [925, 965], "reverse": true, "nice": false, "zero": false}, "axis": null},
     "order": {"field": "age", "type": "quantitative"}}},
   {"data": {"name": "ins_bot"}, "mark": {"type": "line", "opacity": 0},
    "encoding": {
     "x": {"field": "v", "type": "quantitative", "axis": {"orient": "top", "values": [400, 500], "labels": false, "tickSize": -4.5, "title": null}},
     "y": {"field": "age", "type": "quantitative", "axis": null},
     "order": {"field": "age", "type": "quantitative"}}},
   {"data": {"name": "ins_bot"}, "mark": {"type": "line", "opacity": 0},
    "encoding": {
     "x": {"field": "v", "type": "quantitative", "axis": {"orient": "bottom", "values": [410,420,430,440,450,460,470,480,490,510,520,530,540,550,560,570,580,590], "labels": false, "tickSize": -2.5, "domain": false, "title": null}},
     "y": {"field": "age", "type": "quantitative", "axis": null},
     "order": {"field": "age", "type": "quantitative"}}},
   {"data": {"name": "ins_bot"}, "mark": {"type": "line", "opacity": 0},
    "encoding": {
     "x": {"field": "v", "type": "quantitative", "axis": {"orient": "top", "values": [410,420,430,440,450,460,470,480,490,510,520,530,540,550,560,570,580,590], "labels": false, "tickSize": -2.5, "domain": false, "title": null}},
     "y": {"field": "age", "type": "quantitative", "axis": null},
     "order": {"field": "age", "type": "quantitative"}}}
  ],
  "resolve": {"axis": {"x": "independent", "y": "independent"}}}
],
"columns": 9,
"spacing": {"row": 39, "column": 9},
"bounds": "flush",
"align": "each"
}
